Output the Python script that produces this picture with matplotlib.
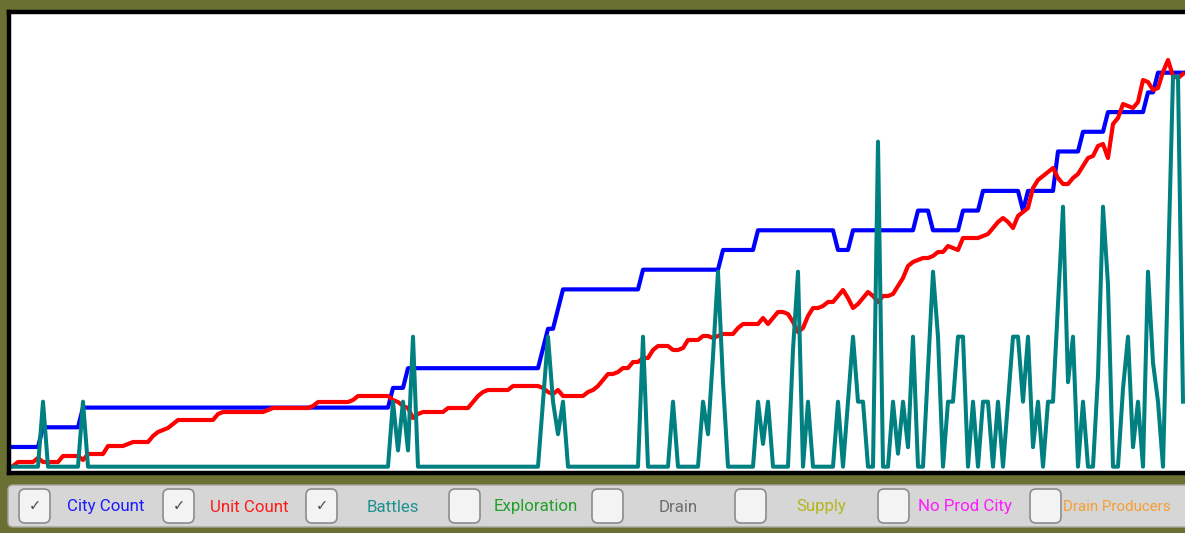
import numpy as np
import matplotlib
matplotlib.use("Agg")
import matplotlib.pyplot as plt
from matplotlib.patches import FancyBboxPatch

# ==========================
# DATA (one value per turn)
# ==========================

city_count = [
    1, 1, 1, 1, 1, 1, 2, 2, 2, 2, 2, 2, 2, 2, 3, 3, 3, 3, 3, 3,
    3, 3, 3, 3, 3, 3, 3, 3, 3, 3, 3, 3, 3, 3, 3, 3, 3, 3, 3, 3,
    3, 3, 3, 3, 3, 3, 3, 3, 3, 3, 3, 3, 3, 3, 3, 3, 3, 3, 3, 3,
    3, 3, 3, 3, 3, 3, 3, 3, 3, 3, 3, 3, 3, 3, 3, 3, 4, 4, 4, 5,
    5, 5, 5, 5, 5, 5, 5, 5, 5, 5, 5, 5, 5, 5, 5, 5, 5, 5, 5, 5,
    5, 5, 5, 5, 5, 5, 6, 7, 7, 8, 9, 9, 9, 9, 9, 9, 9, 9, 9, 9,
    9, 9, 9, 9, 9, 9, 10, 10, 10, 10, 10, 10, 10, 10, 10, 10, 10, 10, 10, 10,
    10, 10, 11, 11, 11, 11, 11, 11, 11, 12, 12, 12, 12, 12, 12, 12, 12, 12, 12, 12,
    12, 12, 12, 12, 12, 11, 11, 11, 12, 12, 12, 12, 12, 12, 12, 12, 12, 12, 12, 12,
    12, 13, 13, 13, 12, 12, 12, 12, 12, 12, 13, 13, 13, 13, 14, 14, 14, 14, 14, 14,
    14, 14, 13, 14, 14, 14, 14, 14, 14, 16, 16, 16, 16, 16, 17, 17, 17, 17, 17, 18,
    18, 18, 18, 18, 18, 18, 18, 19, 19, 20, 20, 20, 20, 20, 20,
]

unit_count = [
    0, 2, 2, 2, 2, 4, 2, 2, 2, 2, 5, 5, 5, 5, 3, 6, 6, 6, 6, 10,
    10, 10, 10, 11, 12, 12, 12, 12, 15, 17, 18, 19, 21, 23, 23, 23, 23, 23, 23, 23,
    23, 26, 27, 27, 27, 27, 27, 27, 27, 27, 27, 28, 29, 29, 29, 29, 29, 29, 29, 29,
    30, 32, 32, 32, 32, 32, 32, 32, 33, 35, 35, 35, 35, 35, 35, 35, 33, 32, 30, 29,
    24, 26, 27, 27, 27, 27, 27, 29, 29, 29, 29, 29, 32, 35, 37, 38, 38, 38, 38, 38,
    40, 40, 40, 40, 40, 40, 39, 37, 36, 38, 35, 35, 35, 35, 35, 37, 38, 40, 43, 46,
    46, 47, 49, 49, 52, 52, 54, 54, 58, 60, 60, 60, 58, 58, 59, 63, 63, 63, 65, 65,
    64, 65, 66, 66, 66, 69, 71, 71, 71, 71, 74, 71, 74, 77, 77, 76, 72, 67, 69, 75,
    79, 79, 80, 82, 82, 85, 88, 84, 79, 81, 84, 87, 85, 82, 85, 85, 86, 90, 94, 100,
    102, 103, 104, 104, 105, 107, 107, 110, 109, 108, 114, 114, 114, 114, 115, 116, 119, 122, 124, 122,
    119, 125, 127, 129, 139, 143, 145, 147, 149, 144, 141, 141, 144, 146, 150, 154, 155, 160, 161, 154,
    171, 174, 181, 180, 179, 182, 193, 192, 188, 189, 197, 203, 195, 194, 196,
]

battles = [
    0, 0, 0, 0, 0, 0, 1, 0, 0, 0, 0, 0, 0, 0, 1, 0, 0, 0, 0, 0,
    0, 0, 0, 0, 0, 0, 0, 0, 0, 0, 0, 0, 0, 0, 0, 0, 0, 0, 0, 0,
    0, 0, 0, 0, 0, 0, 0, 0, 0, 0, 0, 0, 0, 0, 0, 0, 0, 0, 0, 0,
    0, 0, 0, 0, 0, 0, 0, 0, 0, 0, 0, 0, 0, 0, 0, 0, 1, 0.25, 1, 0.25,
    2, 0, 0, 0, 0, 0, 0, 0, 0, 0, 0, 0, 0, 0, 0, 0, 0, 0, 0, 0,
    0, 0, 0, 0, 0, 0, 1, 2, 1, 0.5, 1, 0, 0, 0, 0, 0, 0, 0, 0, 0,
    0, 0, 0, 0, 0, 0, 2, 0, 0, 0, 0, 0, 1, 0, 0, 0, 0, 0, 1, 0.5,
    1.7, 3, 1.3, 0, 0, 0, 0, 0, 0, 1, 0.35, 1, 0, 0, 0, 0, 1.8, 3, 0, 1,
    0, 0, 0, 0, 0, 1, 0, 1, 2, 1, 1, 0, 0, 5, 0, 0, 1, 0.2, 1, 0.3,
    2, 0, 0, 1.5, 3, 2, 0, 1, 1, 2, 2, 0, 1, 0, 1, 1, 0, 1, 0, 1,
    2, 2, 1, 2, 0.3, 1, 0, 1, 1, 2.5, 4, 1.3, 2, 0, 1, 0, 0, 1.4, 4, 2.8,
    0, 0, 1.2, 2, 0.3, 1, 0, 3, 1.6, 1, 0, 3, 6, 6, 1,
]

legend_labels = ["City Count", "Unit Count", "Battles", "Exploration",
                 "Drain", "Supply", "No Prod City", "Drain Producers"]
legend_checked = [True, True, True, False, False, False, False, False]

turns = np.arange(len(city_count))

# ==========================
# STYLE / LAYOUT
# ==========================

W, H = 1185, 533
olive = "#6a7031"
legend_colors = ["#1a1aff", "#ff1a1a", "#1f9090", "#22a02a",
                 "#6e6e6e", "#b5b51e", "#ff1aff", "#f5a032"]
legend_sizes = [12.2, 12.2, 12.2, 12.2, 12.2, 12.2, 12.2, 10.9]
box_left = [19, 163, 306, 449, 592, 735, 878, 1030]

fig = plt.figure(figsize=(W / 100, H / 100), dpi=100)
fig.patch.set_facecolor(olive)

# plot frame in pixels: left 9, right off-canvas, top 12, bottom 473
ax_city = fig.add_axes([9 / W, 1 - 473 / H, (1192 - 9) / W, (473 - 12) / H])
ax_city.set_facecolor("white")
ax_unit = ax_city.twinx()
ax_bat = ax_city.twinx()

for a in (ax_city, ax_unit, ax_bat):
    a.set_xlim(-0.8, 235.8)
    a.set_xticks([])
    a.set_yticks([])
    for s in a.spines.values():
        s.set_visible(False)

ax_city.set_ylim(-0.32, 23.08)
ax_unit.set_ylim(-3.5, 227)
ax_bat.set_ylim(-0.097, 6.995)

ax_city.plot(turns, city_count, color="#0000ff", lw=3.0)
ax_unit.plot(turns, unit_count, color="#ff0000", lw=3.0)
ax_bat.plot(turns, battles, color="#008080", lw=2.9)

for s in ax_bat.spines.values():
    s.set_visible(True)
    s.set_color("black")
    s.set_linewidth(3.2)

# ==========================
# LEGEND BAR
# ==========================

lax = fig.add_axes([0, 0, 1, 1])
lax.set_xlim(0, W)
lax.set_ylim(H, 0)
lax.set_axis_off()

lax.add_patch(FancyBboxPatch((8, 485), 1190, 42,
                             boxstyle="round,pad=0,rounding_size=5",
                             fc="#d6d6d6", ec="#a5a59a", lw=1))

for bx, label, col, fs, checked in zip(box_left, legend_labels, legend_colors,
                                       legend_sizes, legend_checked):
    lax.add_patch(FancyBboxPatch((bx, 489), 31, 34,
                                 boxstyle="round,pad=0,rounding_size=6",
                                 fc="#f3f3f3", ec="#8c8c8c", lw=1.2))
    if checked:
        lax.text(bx + 15.5, 506, "\u2713", ha="center", va="center",
                 fontsize=10.5, color="#4d4d4d", family="DejaVu Sans")
    lax.text(bx + 86.5, 507, label, ha="center", va="center",
             fontsize=fs, color=col, family="Roboto")

plt.savefig("out.png", dpi=100, facecolor=fig.get_facecolor())
plt.close()
